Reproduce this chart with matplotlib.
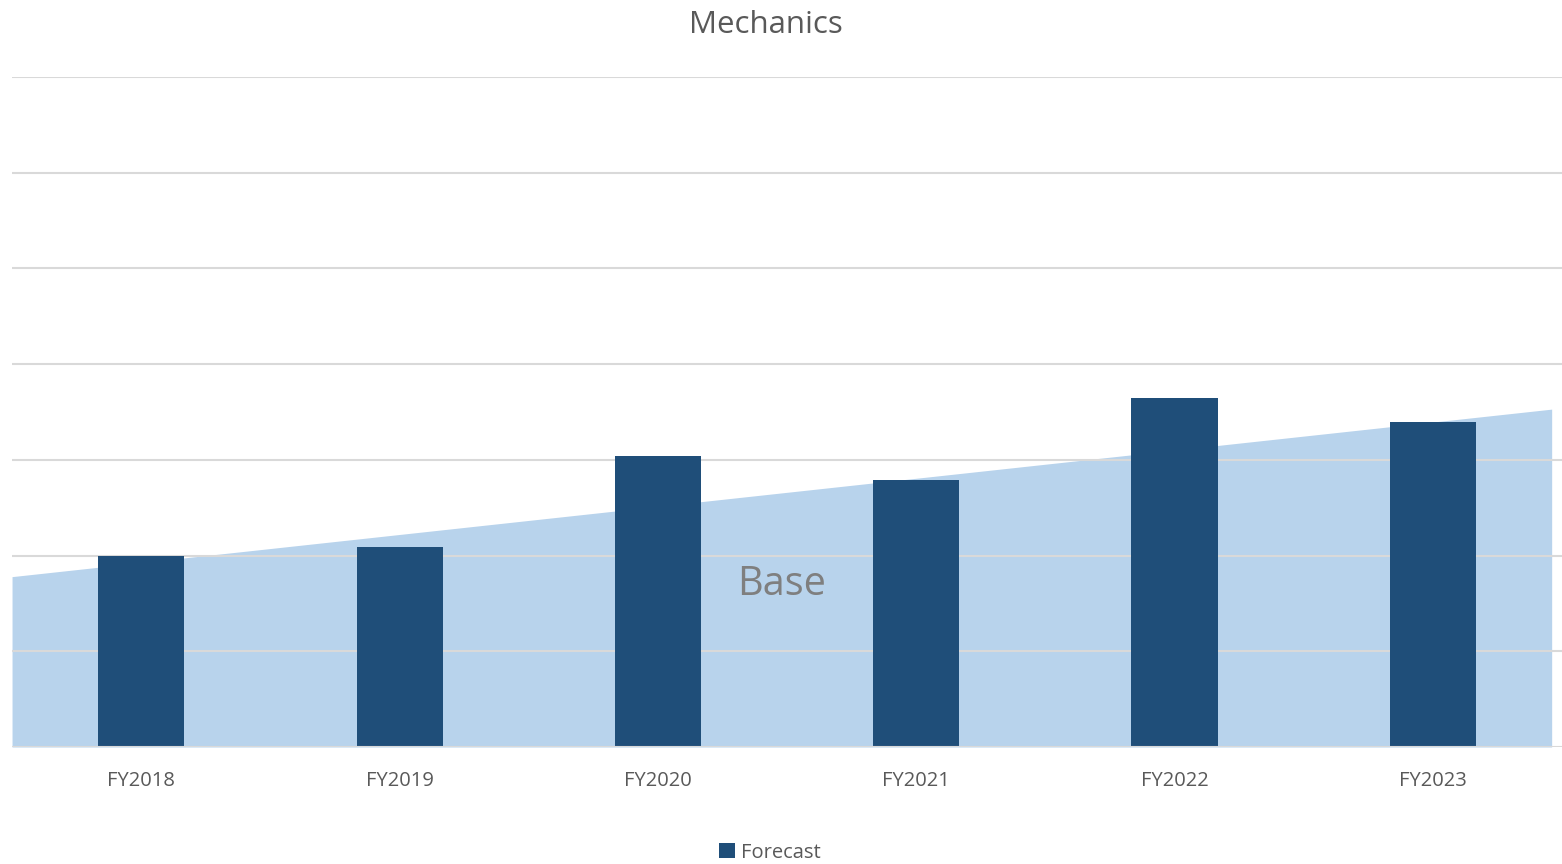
import matplotlib.pyplot as plt
import numpy as np

plt.rcParams['font.family'] = ['Open Sans', 'DejaVu Sans']

years = ['FY2018', 'FY2019', 'FY2020', 'FY2021', 'FY2022', 'FY2023']
forecast = [2.00, 2.09, 3.04, 2.79, 3.65, 3.40]
base_x = [-0.5, 5.46]
base_y = [1.78, 3.53]

fig = plt.figure(figsize=(15.62, 8.64), dpi=100)
ax = fig.add_axes([0.0077, 0.1354, 0.9923, 0.7755])

x = np.arange(len(years))

# background "Base" area, gridlines over it, bars on top
ax.fill_between(base_x, base_y, 0, color='#B8D3EC', lw=0, zorder=0)
for y in range(1, 8):
    ax.axhline(y, color='#D9D9D9', lw=1.5, zorder=1)
ax.axhline(0, color='#D9D9D9', lw=1.5, zorder=3)
ax.bar(x, forecast, width=0.333, color='#1F4E79', zorder=2, label='Forecast')

ax.text(2.48, 1.70, 'Base', fontsize=28.5, color='#7F7F7F', ha='center', va='center', zorder=4)

ax.set_xlim(-0.5, 5.5)
ax.set_ylim(0, 7)
ax.set_xticks(x)
ax.set_xticklabels(years, fontsize=14.5, color='#595959')
ax.tick_params(axis='x', length=0, pad=17)
ax.set_yticks([])
for s in ax.spines.values():
    s.set_visible(False)

fig.text(0.49, 0.971, 'Mechanics', fontsize=22.5, color='#595959', ha='center', va='center')
fig.legend(loc='center', bbox_to_anchor=(0.493, 0.013), frameon=False, fontsize=14.5,
           labelcolor='#595959', handlelength=0.8, handleheight=0.8, handletextpad=0.3,
           borderpad=0)

fig.savefig('out.png', dpi=100)
